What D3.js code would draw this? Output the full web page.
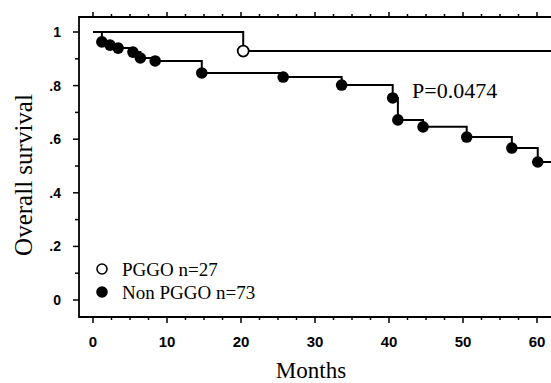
<!DOCTYPE html>
<html>
<head>
<meta charset="utf-8">
<script src="https://cdn.jsdelivr.net/npm/d3@7"></script>
<style>
  body { margin: 0; background: #fff; }
  svg { display: block; }
</style>
</head>
<body>
<div id="chart"></div>
<script>
// Kaplan-Meier curves (months, survival after event)
var pggoTimes = [0, 20.3];
var pggoSurv = [1, 0.929];
var nonTimes = [0, 1.2, 2.3, 3.4, 5.4, 6.4, 8.4, 14.7, 25.7, 33.6, 40.5, 41.2, 44.6, 50.5, 56.6, 60.1];
var nonSurv = [1, 0.963, 0.951, 0.940, 0.925, 0.903, 0.892, 0.847, 0.832, 0.802, 0.754, 0.672, 0.646, 0.608, 0.567, 0.515];
var endMonth = 62;

var xTicks = [0, 10, 20, 30, 40, 50, 60];
var yTicks = [0, 0.2, 0.4, 0.6, 0.8, 1];
var yTickLabels = ["0", ".2", ".4", ".6", ".8", "1"];
var legendLabels = ["PGGO n=27", "Non PGGO n=73"];
var pValue = "P=0.0474";

var width = 551, height = 383;
var x = d3.scaleLinear().domain([0, 60]).range([93, 537]);
var y = d3.scaleLinear().domain([0, 1]).range([300, 32]);
var axisX = 79, axisY = 317, topY = 17;

var svg = d3.select("#chart").append("svg")
  .attr("width", width)
  .attr("height", height);

// frame: left axis, bottom axis, top line
var frame = svg.append("g")
  .attr("stroke", "#000")
  .attr("stroke-width", 1.8)
  .attr("fill", "none");
frame.append("path")
  .attr("d", "M" + width + "," + topY + "H" + axisX + "V" + axisY + "H" + width);

// bottom ticks
var minorX = d3.range(0, 62.5, 2.5);
svg.append("g")
  .attr("stroke", "#000")
  .attr("stroke-width", 1.5)
  .selectAll("line")
  .data(minorX)
  .enter().append("line")
  .attr("x1", function (d) { return x(d); })
  .attr("x2", function (d) { return x(d); })
  .attr("y1", axisY)
  .attr("y2", function (d) { return axisY + (d % 10 === 0 ? 6 : 3); });

// top ticks
svg.append("g")
  .attr("stroke", "#000")
  .attr("stroke-width", 1.5)
  .selectAll("line")
  .data(minorX)
  .enter().append("line")
  .attr("x1", function (d) { return x(d); })
  .attr("x2", function (d) { return x(d); })
  .attr("y1", topY)
  .attr("y2", function (d) { return topY - (d % 10 === 0 ? 5 : 3); });

// left ticks
var minorY = d3.range(0, 1.05, 0.1);
svg.append("g")
  .attr("stroke", "#000")
  .attr("stroke-width", 1.5)
  .selectAll("line")
  .data(minorY)
  .enter().append("line")
  .attr("x1", axisX)
  .attr("x2", function (d, i) { return axisX - (i % 2 === 0 ? 6 : 4); })
  .attr("y1", function (d) { return y(d); })
  .attr("y2", function (d) { return y(d); });

// tick labels
svg.append("g")
  .attr("font-family", "'Liberation Sans', Arial, sans-serif")
  .attr("font-weight", "bold")
  .attr("font-size", 15)
  .attr("text-anchor", "middle")
  .selectAll("text")
  .data(xTicks)
  .enter().append("text")
  .attr("x", function (d) { return x(d); })
  .attr("y", 347)
  .text(function (d) { return d; });

svg.append("g")
  .attr("font-family", "'Liberation Sans', Arial, sans-serif")
  .attr("font-weight", "bold")
  .attr("font-size", 14)
  .attr("text-anchor", "end")
  .selectAll("text")
  .data(yTicks)
  .enter().append("text")
  .attr("x", 61)
  .attr("y", function (d) { return y(d) + 5; })
  .text(function (d, i) { return yTickLabels[i]; });

// axis titles
svg.append("text")
  .attr("font-family", "'Liberation Serif', 'Times New Roman', serif")
  .attr("font-size", 23)
  .attr("text-anchor", "middle")
  .attr("x", 311)
  .attr("y", 378)
  .text("Months");

svg.append("text")
  .attr("font-family", "'Liberation Serif', 'Times New Roman', serif")
  .attr("font-size", 25)
  .attr("text-anchor", "middle")
  .attr("transform", "translate(32,175) rotate(-90)")
  .text("Overall survival");

// step curves
function stepPath(times, surv) {
  var pts = times.map(function (t, i) { return [t, surv[i]]; });
  pts.push([endMonth, surv[surv.length - 1]]);
  return d3.line()
    .x(function (d) { return x(d[0]); })
    .y(function (d) { return y(d[1]); })
    .curve(d3.curveStepAfter)(pts);
}

svg.append("path")
  .attr("d", stepPath(pggoTimes, pggoSurv))
  .attr("fill", "none")
  .attr("stroke", "#000")
  .attr("stroke-width", 2);

svg.append("path")
  .attr("d", stepPath(nonTimes, nonSurv))
  .attr("fill", "none")
  .attr("stroke", "#000")
  .attr("stroke-width", 2);

// event markers
svg.append("g")
  .selectAll("circle")
  .data(pggoTimes.slice(1))
  .enter().append("circle")
  .attr("cx", function (d) { return x(d); })
  .attr("cy", function (d, i) { return y(pggoSurv[i + 1]); })
  .attr("r", 5.5)
  .attr("fill", "#fff")
  .attr("stroke", "#000")
  .attr("stroke-width", 1.8);

svg.append("g")
  .selectAll("circle")
  .data(nonTimes.slice(1))
  .enter().append("circle")
  .attr("cx", function (d) { return x(d); })
  .attr("cy", function (d, i) { return y(nonSurv[i + 1]); })
  .attr("r", 5.8)
  .attr("fill", "#000");

// p value
svg.append("text")
  .attr("font-family", "'Liberation Serif', 'Times New Roman', serif")
  .attr("font-size", 22)
  .attr("x", 412)
  .attr("y", 98)
  .text(pValue);

// legend
var legend = svg.append("g")
  .attr("font-family", "'Liberation Serif', 'Times New Roman', serif")
  .attr("font-size", 19);
legendLabels.forEach(function (label, i) {
  var cy = 269 + i * 23;
  legend.append("circle")
    .attr("cx", 102)
    .attr("cy", cy)
    .attr("r", 5)
    .attr("fill", i === 0 ? "#fff" : "#000")
    .attr("stroke", "#000")
    .attr("stroke-width", 1.6);
  legend.append("text")
    .attr("x", 122)
    .attr("y", cy + 7)
    .text(label);
});
</script>
</body>
</html>
